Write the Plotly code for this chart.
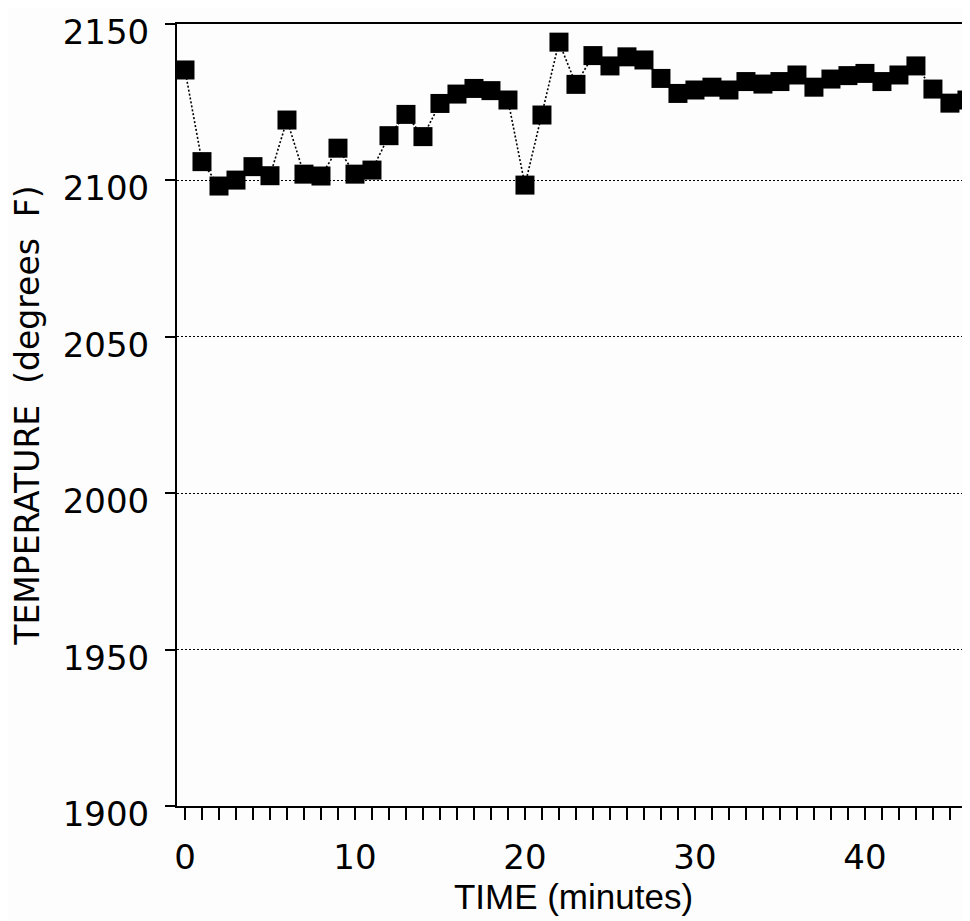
import plotly.graph_objects as go

# time in minutes, temperature in degrees F
minutes = list(range(47))
temperature = [
    2135.3, 2106.0, 2098.2, 2100.1, 2104.4, 2101.5, 2119.3, 2102.0, 2101.4, 2110.3,
    2102.0, 2103.3, 2114.3, 2121.1, 2114.0, 2124.6, 2127.6, 2129.4, 2128.7, 2125.7,
    2098.5, 2120.9, 2144.2, 2130.7, 2139.9, 2136.6, 2139.5, 2138.5, 2132.6, 2127.8,
    2128.9, 2129.8, 2128.9, 2131.6, 2130.8, 2131.6, 2133.7, 2129.8, 2132.4, 2133.5,
    2134.2, 2131.6, 2133.7, 2136.6, 2129.2, 2124.7, 2125.7,
]
y_ticks = [1900, 1950, 2000, 2050, 2100, 2150]
x_ticks = [0, 10, 20, 30, 40]

tick_font = dict(family="DejaVu Sans", size=34, color="black")

fig = go.Figure()

# dotted line + black squares
fig.add_trace(
    go.Scatter(
        x=minutes,
        y=temperature,
        mode="lines+markers",
        line=dict(color="black", width=1.6, dash="2px,2px"),
        marker=dict(symbol="square", size=19, color="black"),
        showlegend=False,
    )
)

# page body has an 8px margin, so size/margins are reduced by that
fig.update_layout(
    width=962,
    height=913,
    margin=dict(l=169, r=0, t=16, b=115),
    paper_bgcolor="#fdfdfd",
    plot_bgcolor="#fdfdfd",
)

fig.update_xaxes(
    range=[-0.47, 46.18],
    automargin=False,
    tickvals=x_ticks,
    ticks="outside",
    ticklen=12,
    tickwidth=1.5,
    tickcolor="black",
    tickfont=tick_font,
    ticklabelstandoff=8,
    ticklabeloverflow="allow",
    minor=dict(dtick=1, tick0=0, ticks="outside", ticklen=12, tickwidth=1.5,
               tickcolor="black", showgrid=False),
    showgrid=False,
    zeroline=False,
    showline=True,
    linecolor="black",
    linewidth=2,
    mirror=True,
    title=dict(text="TIME (minutes)",
               font=dict(family="Liberation Sans", size=35, color="black"),
               standoff=2),
)

fig.update_yaxes(
    range=[1900, 2150],
    automargin=False,
    tickvals=y_ticks,
    ticks="outside",
    ticklen=10,
    tickwidth=1.5,
    tickcolor="black",
    tickfont=tick_font,
    ticklabelstandoff=9,
    ticklabelshift=8,
    ticklabeloverflow="allow",
    showgrid=True,
    gridcolor="black",
    gridwidth=1.2,
    griddash="2px,2px",
    zeroline=False,
    showline=True,
    linecolor="black",
    linewidth=2,
    mirror=False,
    title=dict(text="TEMPERATURE  (degrees  F)",
               font=dict(family="DejaVu Sans", size=33, color="black"),
               standoff=14),
)

fig.write_html("out.html")
